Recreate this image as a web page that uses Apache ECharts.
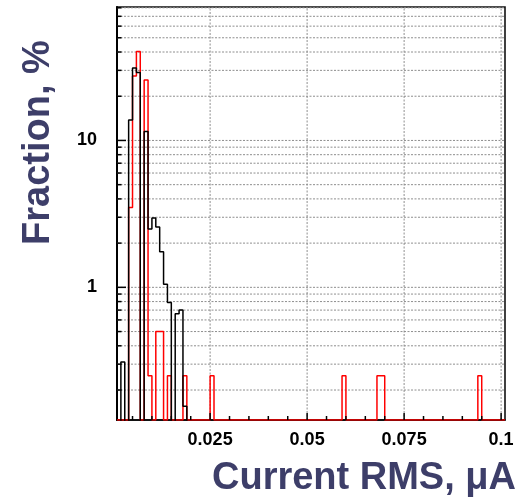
<!DOCTYPE html>
<html>
<head>
<meta charset="utf-8">
<script src="https://cdn.jsdelivr.net/npm/echarts@6/dist/echarts.min.js"></script>
<style>
  html, body { margin: 0; padding: 0; background: #fff; }
  #chart { width: 531px; height: 502px; }
</style>
</head>
<body>
<div id="chart"></div>
<script>
// Binning of both histograms: 100 bins, 0.001 µA wide, starting at 0.001 µA
const binLow = 0.001;
const binWidth = 0.001;

// Fraction of channels per bin, % (red histogram)
const redFraction = [
  0, 0, 0, 3.5, 27.5, 40.25, 0, 25.75, 0.25, 0,
  0.5, 0.5, 0, 0.25, 0, 0, 0, 0.25, 0, 0,
  0, 0, 0, 0, 0.25, 0, 0, 0, 0, 0,
  0, 0, 0, 0, 0, 0, 0, 0, 0, 0,
  0, 0, 0, 0, 0, 0, 0, 0, 0, 0,
  0, 0, 0, 0, 0, 0, 0, 0, 0.25, 0,
  0, 0, 0, 0, 0, 0, 0, 0.25, 0.25, 0,
  0, 0, 0, 0, 0, 0, 0, 0, 0, 0,
  0, 0, 0, 0, 0, 0, 0, 0, 0, 0,
  0, 0, 0, 0.25, 0, 0, 0, 0, 0, 0
];

// Fraction of channels per bin, % (black histogram)
const blackFraction = [
  0, 0.31, 0, 13.8, 31.1, 29.0, 0, 11.5, 2.5, 2.97,
  2.58, 1.75, 1.05, 0.79, 0, 0.66, 0.70, 0.155, 0, 0,
  0, 0, 0, 0, 0, 0, 0, 0, 0, 0,
  0, 0, 0, 0, 0, 0, 0, 0, 0, 0,
  0, 0, 0, 0, 0, 0, 0, 0, 0, 0,
  0, 0, 0, 0, 0, 0, 0, 0, 0, 0,
  0, 0, 0, 0, 0, 0, 0, 0, 0, 0,
  0, 0, 0, 0, 0, 0, 0, 0, 0, 0,
  0, 0, 0, 0, 0, 0, 0, 0, 0, 0,
  0, 0, 0, 0, 0, 0, 0, 0, 0, 0
];

// Axis ticks
const xTickMajor = [0.025, 0.05, 0.075, 0.1];
const xTickMinor = [0.005, 0.01, 0.015, 0.02, 0.03, 0.035, 0.04, 0.045,
                    0.055, 0.06, 0.065, 0.07, 0.08, 0.085, 0.09, 0.095];
const yTickMajor = [1, 10];
const yTickMinor = [0.2, 0.3, 0.4, 0.5, 0.6, 0.7, 0.8, 0.9,
                    2, 3, 4, 5, 6, 7, 8, 9,
                    20, 30, 40, 50, 60, 70, 80];

const xTitle = 'Current RMS, μA';
const yTitle = 'Fraction, %';

// Axis ranges
const xMin = 0.001, xMax = 0.101;
const yMin = 0.125, yMax = 81;

const titleColor = '#3d3e69';
const labelFont = 'Liberation Sans';

// Step outline of a histogram; empty bins drop to the given floor
function outline(values, floor) {
  const pts = values.map((v, i) => [binLow + i * binWidth, v > 0 ? v : floor]);
  pts.push([binLow + values.length * binWidth, pts[pts.length - 1][1]]);
  return pts;
}

const chart = echarts.init(document.getElementById('chart'), null, { renderer: 'canvas' });

const gridStyle = { stroke: '#8e8e8e', lineWidth: 1, lineDash: [2, 1.5] };

chart.setOption({
  animation: false,
  backgroundColor: '#fff',
  grid: {
    left: 117, top: 7, right: 26, bottom: 82,
    show: true, borderColor: '#111', borderWidth: 1.6, backgroundColor: 'transparent'
  },
  xAxis: {
    type: 'value', min: xMin, max: xMax,
    axisLine: { show: true, onZero: false, lineStyle: { color: '#000', width: 1.5 } },
    axisTick: { show: false },
    splitLine: { show: false },
    axisLabel: {
      customValues: xTickMajor,
      margin: 11,
      color: '#000',
      fontFamily: labelFont, fontWeight: 'bold', fontSize: 18,
      formatter: v => String(v)
    }
  },
  yAxis: {
    type: 'log', logBase: 10, min: yMin, max: yMax,
    axisLine: { show: true, lineStyle: { color: '#000', width: 2 } },
    axisTick: { show: false },
    splitLine: { show: false },
    minorTick: { show: false },
    axisLabel: {
      margin: 20,
      padding: [5, 0, 0, 0],
      color: '#000',
      fontFamily: labelFont, fontWeight: 'bold', fontSize: 18,
      formatter: v => yTickMajor.some(t => Math.abs(v - t) < 1e-9 * t) ? String(v) : ''
    }
  },
  graphic: [
    {
      type: 'text', x: 364, y: 479, z: 10,
      style: {
        text: xTitle, fill: titleColor,
        font: 'bold 38px "Liberation Sans"',
        align: 'center', verticalAlign: 'middle'
      }
    },
    {
      type: 'text', x: 39, y: 245, rotation: Math.PI / 2, z: 10,
      style: {
        text: yTitle, fill: titleColor,
        font: 'bold 38px "Liberation Sans"',
        align: 'left', verticalAlign: 'middle'
      }
    }
  ],
  series: [
    // horizontal dotted grid lines at every y tick
    {
      type: 'custom', z: 1, silent: true,
      data: yTickMinor.concat(yTickMajor).map(v => [xMin, v]),
      renderItem: (params, api) => {
        const a = api.coord([xMin, api.value(1)]);
        const b = api.coord([xMax, api.value(1)]);
        return { type: 'line', shape: { x1: a[0], y1: a[1], x2: b[0], y2: b[1] }, style: gridStyle };
      }
    },
    // vertical dotted grid lines at major x ticks
    {
      type: 'custom', z: 1, silent: true,
      data: xTickMajor.map(v => [v, yMin]),
      renderItem: (params, api) => {
        const a = api.coord([api.value(0), yMin]);
        const b = api.coord([api.value(0), yMax]);
        return { type: 'line', shape: { x1: a[0], y1: a[1], x2: b[0], y2: b[1] }, style: gridStyle };
      }
    },
    {
      name: 'red', type: 'line', step: 'end', z: 3,
      symbol: 'none', clip: true,
      data: outline(redFraction, yMin),
      lineStyle: { color: '#ff0000', width: 1.5 }
    },
    {
      name: 'black', type: 'line', step: 'end', z: 4,
      symbol: 'none', clip: true,
      data: outline(blackFraction, 0.1),
      lineStyle: { color: '#000', width: 1.5 }
    },
    // y ticks, drawn inward from the left axis
    {
      type: 'custom', z: 6, silent: true,
      data: yTickMinor.map(v => [xMin, v, 0]).concat(yTickMajor.map(v => [xMin, v, 1])),
      renderItem: (params, api) => {
        const p = api.coord([xMin, api.value(1)]);
        const len = api.value(2) ? 9 : 4.5;
        return { type: 'line', shape: { x1: p[0], y1: p[1], x2: p[0] + len, y2: p[1] },
                 style: { stroke: '#000', lineWidth: 1.5 } };
      }
    },
    // x ticks, drawn inward from the bottom axis
    {
      type: 'custom', z: 6, silent: true,
      data: xTickMinor.map(v => [v, yMin, 0]).concat(xTickMajor.map(v => [v, yMin, 1])),
      renderItem: (params, api) => {
        const p = api.coord([api.value(0), yMin]);
        const len = api.value(2) ? 7 : 4;
        return { type: 'line', shape: { x1: p[0], y1: p[1], x2: p[0], y2: p[1] - len },
                 style: { stroke: '#000', lineWidth: 1.5 } };
      }
    }
  ]
});
</script>
</body>
</html>
